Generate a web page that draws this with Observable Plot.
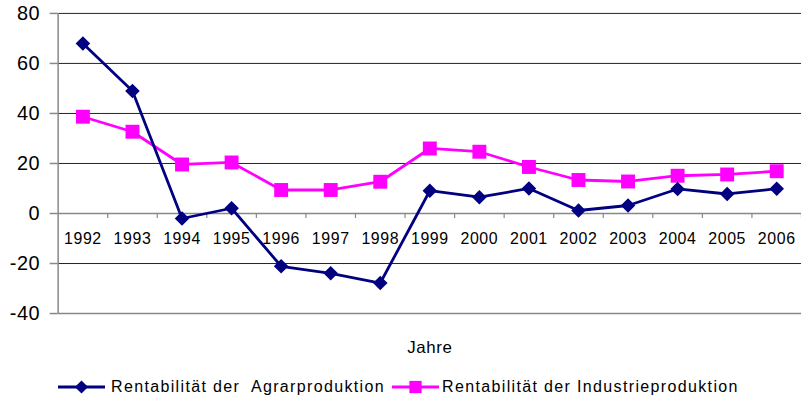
<!DOCTYPE html>
<html>
<head>
<meta charset="utf-8">
<script src="https://cdn.jsdelivr.net/npm/d3@7"></script>
<script src="https://cdn.jsdelivr.net/npm/@observablehq/plot@0.6"></script>
<style>
  html, body { margin: 0; padding: 0; background: #fff; overflow: hidden; }
  #chart { width: 801px; height: 404px; overflow: hidden; position: relative; }
  #legend { height: 29px; display: flex; align-items: center; padding-left: 58px;
            font-family: "Liberation Sans", Arial, sans-serif; font-size: 16px; color: #000; }
  .item { display: flex; align-items: center; }
  .item span { letter-spacing: 1.35px; white-space: pre; }
</style>
</head>
<body>
<div id="chart"></div>
<script>
const years = [1992, 1993, 1994, 1995, 1996, 1997, 1998, 1999, 2000, 2001, 2002, 2003, 2004, 2005, 2006];
const agrar = [68, 49, -2, 2.1, -21.1, -23.9, -27.8, 9.1, 6.5, 10, 1.2, 3.2, 9.8, 7.8, 9.9];
const industrie = [38.7, 32.7, 19.6, 20.4, 9.4, 9.4, 12.7, 26, 24.7, 18.6, 13.4, 12.8, 15.1, 15.6, 16.9];
const seriesNames = ["Rentabilität der  Agrarproduktion", "Rentabilität der Industrieproduktion"];
const seriesColors = ["#000080", "#ff00ff"];
const seriesSymbols = ["diamond2", "square"];
const yTicks = [-40, -20, 0, 20, 40, 60, 80];
const xTitle = "Jahre";

const dataA = years.map((y, i) => ({year: y, value: agrar[i]}));
const dataI = years.map((y, i) => ({year: y, value: industrie[i]}));
const bounds = [...years.map(y => y - 0.5), years[years.length - 1] + 0.5];

const font = '"Liberation Sans", Arial, sans-serif';

const plot = Plot.plot({
  width: 806,
  height: 375,
  marginLeft: 58,
  marginRight: 0,
  marginTop: 13,
  marginBottom: 60,
  style: {fontFamily: font, background: "#fff", overflow: "visible"},
  x: {type: "linear", domain: [years[0] - 0.5, years[years.length - 1] + 0.5], axis: null},
  y: {domain: [-40, 80], axis: null},
  marks: [
    Plot.ruleY(yTicks.filter(t => t !== 0 && t !== -40), {stroke: "#222", strokeWidth: 1}),
    Plot.ruleY([-40, 0], {stroke: "#888", strokeWidth: 1.5}),
    Plot.axisY({ticks: yTicks, label: null, tickSize: 8, tickPadding: 10, fontSize: 20, stroke: "#888", strokeWidth: 1.5, tickFormat: d => String(d), color: "#000"}),
    Plot.ruleX([bounds[0]], {stroke: "#888", strokeWidth: 1.5}),
    Plot.ruleX(bounds.slice(1), {y1: 0, y2: -2, stroke: "#888", strokeWidth: 1.2}),
    Plot.text(years, {x: d => d, y: 0, dy: 26, text: d => String(d), fontSize: 16, fill: "#000", lineAnchor: "middle"}),
    Plot.text([xTitle], {frameAnchor: "bottom", dy: 34, fontSize: 17, fill: "#000", lineAnchor: "middle"}),
    Plot.line(dataI, {x: "year", y: "value", stroke: seriesColors[1], strokeWidth: 2.8}),
    Plot.dot(dataI, {x: "year", y: "value", symbol: seriesSymbols[1], r: 7.9, fill: seriesColors[1], stroke: "none"}),
    Plot.line(dataA, {x: "year", y: "value", stroke: seriesColors[0], strokeWidth: 2.8}),
    Plot.dot(dataA, {x: "year", y: "value", symbol: seriesSymbols[0], r: 6.6, fill: seriesColors[0], stroke: "none"})
  ]
});

// widen text slightly like the original rendering
d3.select(plot).selectAll("text").style("letter-spacing", "0.6px");

document.getElementById("chart").appendChild(plot);

// legend
const legend = document.createElement("div");
legend.id = "legend";
seriesNames.forEach((name, i) => {
  const item = document.createElement("div");
  item.className = "item";
  item.style.marginRight = i === 0 ? "7px" : "0px";
  const sw = d3.create("svg").attr("width", 47).attr("height", 16);
  sw.append("line").attr("x1", 0).attr("x2", 47).attr("y1", 8).attr("y2", 8)
    .attr("stroke", seriesColors[i]).attr("stroke-width", 3);
  const sym = i === 0 ? d3.symbolDiamond2 : d3.symbolSquare;
  const size = i === 0 ? 110 : 150;
  sw.append("path").attr("transform", "translate(23.5,8)")
    .attr("d", d3.symbol(sym, size)()).attr("fill", seriesColors[i]);
  item.appendChild(sw.node());
  const span = document.createElement("span");
  span.textContent = name;
  span.style.marginLeft = i === 0 ? "6px" : "3px";
  item.appendChild(span);
  legend.appendChild(item);
});
document.getElementById("chart").appendChild(legend);
</script>
</body>
</html>
